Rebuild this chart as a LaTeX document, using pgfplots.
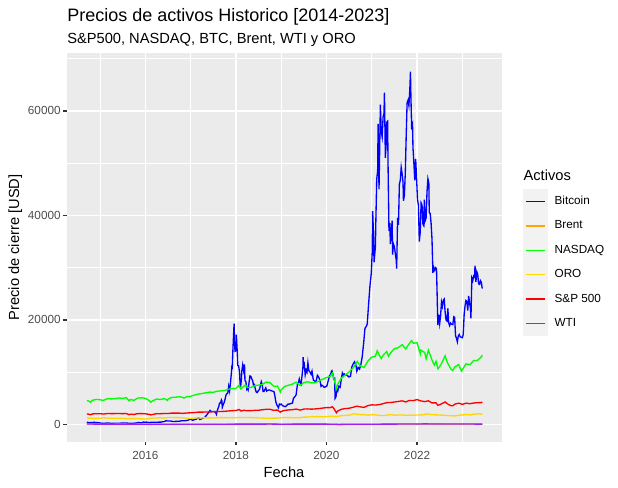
\documentclass[border=0pt]{standalone}
\usepackage{fontspec}
\setmainfont{Liberation Sans}
\usepackage{pgfplots}
\pgfplotsset{compat=1.18}
\definecolor{panelbg}{HTML}{EBEBEB}
\definecolor{keybg}{HTML}{F2F2F2}
\definecolor{grey20}{HTML}{333333}
\definecolor{grey30}{HTML}{4D4D4D}
\definecolor{btc}{HTML}{0000FF}
\definecolor{brent}{HTML}{FFA500}
\definecolor{nasdaq}{HTML}{00FF00}
\definecolor{oro}{HTML}{FFD700}
\definecolor{spx}{HTML}{FF0000}
\definecolor{wti}{HTML}{A020F0}
\begin{document}
\begin{tikzpicture}
\path[use as bounding box] (0,0) rectangle (463.5pt,366pt);
\begin{axis}[
  at={(50.25pt,34.7pt)}, anchor=south west,
  scale only axis, width=326.05pt, height=291.3pt,
  xmin=2014.27, xmax=2023.87, ymin=-3300, ymax=71000,
  axis background/.style={fill=panelbg},
  axis line style={draw=none},
  xtick={2016,2018,2020,2022}, minor xtick={2015,2017,2019,2021,2023},
  ytick={0,20000,40000,60000}, minor ytick={10000,30000,50000,70000},
  grid=both,
  major grid style={white, line width=1.07pt},
  minor grid style={white, line width=0.53pt},
  tick align=inside, major tick length=-2.75pt, minor tick length=0pt,
  xtick pos=bottom, ytick pos=left,
  major tick style={grey20, line width=1.07pt},
  /pgf/number format/1000 sep={},
  /pgf/number format/assume math mode=true,
  scaled ticks=false,
  xticklabel style={font=\fontsize{8.8}{10}\selectfont, text=grey30, inner sep=0pt, anchor=base, yshift=-13.7pt},
  yticklabel style={font=\fontsize{8.8}{10}\selectfont, text=grey30, inner sep=0pt, anchor=east, xshift=-4.6pt},
  legend style={at={(axis description cs:1.0497,0.6499)}, anchor=north west,
    draw=none, fill=none, inner sep=0pt, outer sep=0pt, row sep=0pt, column sep=5.2pt,
    nodes={inner sep=0pt, outer sep=0pt, font=\fontsize{8.8}{10}\selectfont, text=black, anchor=west}},
  legend cell align=left,
  legend image code/.code={\fill[keybg] (0pt,-8.64pt) rectangle (17.28pt,8.64pt);
    \draw[#1, line width=1.07pt] (1.7pt,0pt) -- (15.58pt,0pt);},
  every axis plot/.append style={line width=1pt},
]
% Bitcoin
\addplot[btc] table {
x y
2014.71 457
2014.72 398
2014.75 387
2014.77 330
2014.79 358
2014.81 383
2014.83 338
2014.85 366
2014.87 440
2014.89 380
2014.92 375
2014.94 350
2014.96 320
2014.99 320
2015.01 285
2015.04 178
2015.06 250
2015.08 220
2015.10 230
2015.13 255
2015.15 275
2015.18 290
2015.21 245
2015.23 250
2015.27 225
2015.31 235
2015.35 240
2015.40 230
2015.44 245
2015.48 260
2015.52 285
2015.56 285
2015.60 265
2015.63 225
2015.67 230
2015.71 230
2015.75 240
2015.79 275
2015.83 330
2015.85 390
2015.87 330
2015.90 325
2015.93 360
2015.96 455
2015.99 430
2016.03 450
2016.05 380
2016.08 380
2016.12 400
2016.16 420
2016.20 415
2016.25 420
2016.30 450
2016.35 455
2016.39 530
2016.43 580
2016.46 740
2016.48 670
2016.52 660
2016.56 660
2016.60 575
2016.64 575
2016.69 600
2016.73 610
2016.77 650
2016.81 720
2016.85 710
2016.89 740
2016.93 760
2016.96 890
2017.00 1000
2017.02 900
2017.05 800
2017.08 920
2017.12 1000
2017.15 1180
2017.18 1250
2017.20 960
2017.23 1040
2017.27 1200
2017.31 1350
2017.35 1750
2017.38 2100
2017.40 2300
2017.43 2700
2017.45 2500
2017.49 2480
2017.52 2500
2017.55 2300
2017.57 1930
2017.59 2700
2017.62 3400
2017.64 4100
2017.66 4100
2017.68 4700
2017.69 4500
2017.70 3300
2017.72 3800
2017.74 4200
2017.76 4800
2017.78 5600
2017.80 5900
2017.82 6000
2017.84 7300
2017.86 6400
2017.88 8000
2017.90 9800
2017.91 11000
2017.92 10900
2017.93 13500
2017.95 17500
2017.96 19300
2017.97 16000
2017.98 14000
2018.00 14100
2018.01 17200
2018.03 13800
2018.04 11300
2018.06 11200
2018.08 10000
2018.09 8200
2018.10 6900
2018.12 8500
2018.13 10200
2018.15 11400
2018.17 10300
2018.19 11500
2018.20 8400
2018.22 8200
2018.24 6800
2018.25 7000
2018.27 6600
2018.29 8000
2018.31 9300
2018.33 9200
2018.35 8700
2018.37 8400
2018.39 7400
2018.41 7600
2018.43 6700
2018.45 6200
2018.47 6100
2018.49 6400
2018.52 6700
2018.54 7400
2018.56 8200
2018.58 7700
2018.60 6300
2018.62 6300
2018.64 6700
2018.66 7000
2018.68 6400
2018.70 6500
2018.72 6600
2018.74 6600
2018.77 6500
2018.80 6400
2018.84 6300
2018.86 5500
2018.88 4400
2018.90 3800
2018.92 3500
2018.94 3200
2018.96 3900
2018.98 3800
2019.00 3900
2019.03 3600
2019.06 3500
2019.09 3400
2019.12 3600
2019.15 3900
2019.18 3900
2019.21 4000
2019.25 4100
2019.27 5000
2019.29 5200
2019.31 5400
2019.33 5700
2019.36 7800
2019.38 8000
2019.40 8700
2019.42 8000
2019.44 7700
2019.46 9300
2019.48 11000
2019.485 12900
2019.49 11000
2019.51 11500
2019.53 9500
2019.55 10400
2019.57 10000
2019.59 11800
2019.61 10300
2019.63 10100
2019.66 9600
2019.68 10200
2019.71 8500
2019.74 8300
2019.77 8200
2019.80 9400
2019.82 9200
2019.85 8600
2019.88 7300
2019.90 7500
2019.92 7400
2019.95 7100
2019.98 7200
2020.01 7400
2020.03 8100
2020.05 8700
2020.07 9400
2020.09 9500
2020.11 10200
2020.12 10300
2020.14 9700
2020.16 8700
2020.18 8800
2020.19 5000
2020.21 5300
2020.23 6700
2020.25 6400
2020.27 7300
2020.30 7100
2020.33 8800
2020.35 9800
2020.37 9300
2020.39 9700
2020.42 9500
2020.46 9400
2020.49 9100
2020.53 9200
2020.56 11000
2020.59 11600
2020.62 12000
2020.65 11400
2020.67 10200
2020.70 10900
2020.73 10600
2020.76 11500
2020.79 13000
2020.82 15500
2020.85 18400
2020.88 18800
2020.90 19200
2020.93 23000
2020.96 26500
2020.99 29000
2021.01 33000
2021.02 40800
2021.04 36000
2021.05 31000
2021.07 33000
2021.08 34000
2021.09 38800
2021.11 47000
2021.13 48500
2021.14 57500
2021.16 45000
2021.17 50000
2021.19 61200
2021.21 56000
2021.23 55000
2021.25 58800
2021.27 59500
2021.28 63500
2021.30 51000
2021.32 54000
2021.33 57800
2021.35 58000
2021.36 49500
2021.38 37000
2021.40 38500
2021.41 34500
2021.43 36500
2021.45 39000
2021.46 32500
2021.48 34500
2021.50 34000
2021.52 32700
2021.54 31500
2021.55 29800
2021.57 39500
2021.59 38200
2021.61 46000
2021.63 46700
2021.65 49200
2021.67 48000
2021.69 46400
2021.70 42800
2021.72 43800
2021.74 48000
2021.76 55000
2021.78 61500
2021.80 62000
2021.82 61000
2021.84 64000
2021.855 67500
2021.86 64500
2021.88 57000
2021.90 57500
2021.91 53000
2021.93 50000
2021.95 46700
2021.97 50800
2021.99 47000
2022.01 43000
2022.03 42000
2022.05 35000
2022.07 36800
2022.09 42400
2022.11 42000
2022.13 38300
2022.15 38000
2022.16 43000
2022.18 39000
2022.20 39500
2022.22 44500
2022.24 47000
2022.26 46200
2022.27 40500
2022.29 40400
2022.31 38500
2022.33 35500
2022.35 29000
2022.37 30000
2022.39 29500
2022.41 30000
2022.43 29800
2022.45 22500
2022.46 19000
2022.48 21000
2022.50 19300
2022.52 20800
2022.54 23400
2022.56 22600
2022.58 23800
2022.60 24000
2022.62 21500
2022.64 20000
2022.66 19800
2022.68 22200
2022.70 19400
2022.72 18900
2022.74 19400
2022.76 19200
2022.79 19100
2022.81 20600
2022.83 20500
2022.85 17000
2022.87 16500
2022.89 15800
2022.91 16900
2022.93 17200
2022.95 16800
2022.97 16700
2023.00 16600
2023.02 17200
2023.04 21000
2023.06 22700
2023.08 23700
2023.10 23500
2023.12 21800
2023.14 24600
2023.16 23200
2023.18 22300
2023.19 20300
2023.21 28000
2023.23 27500
2023.25 28400
2023.27 28200
2023.28 30400
2023.30 27300
2023.32 29200
2023.34 28700
2023.36 26900
2023.38 26800
2023.40 27500
2023.42 27200
2023.44 26000
};
\addlegendentry{Bitcoin}
% Brent
\addplot[brent] table {
x y
2014.71 98
2014.75 95
2014.83 86
2014.92 70
2015.00 57
2015.04 47
2015.08 53
2015.25 55
2015.42 65
2015.58 52
2015.75 48
2016.00 37
2016.05 28
2016.25 40
2016.50 50
2016.75 49
2017.00 57
2017.25 53
2017.50 48
2017.75 57
2018.00 67
2018.25 70
2018.42 77
2018.79 85
2019.00 54
2019.33 72
2019.67 60
2020.00 66
2020.08 58
2020.30 20
2020.50 41
2020.83 38
2021.00 52
2021.25 64
2021.50 75
2021.83 84
2022.00 78
2022.19 128
2022.25 108
2022.50 115
2022.75 88
2023.00 86
2023.25 80
2023.44 75
};
\addlegendentry{Brent}
% NASDAQ
\addplot[nasdaq] table {
x y
2014.71 4562
2014.75 4493
2014.79 4250
2014.83 4631
2014.92 4792
2015.00 4736
2015.04 4640
2015.08 4635
2015.17 4964
2015.25 4901
2015.33 4941
2015.42 5070
2015.50 4987
2015.58 5128
2015.64 4526
2015.67 4777
2015.75 4620
2015.83 5054
2015.92 5109
2016.00 5007
2016.08 4614
2016.12 4266
2016.17 4558
2016.25 4870
2016.33 4775
2016.42 4948
2016.49 4594
2016.50 4843
2016.58 5162
2016.67 5213
2016.75 5312
2016.83 5189
2016.85 5046
2016.92 5323
2017.00 5383
2017.08 5615
2017.17 5825
2017.25 5912
2017.33 6048
2017.42 6199
2017.50 6140
2017.58 6348
2017.67 6429
2017.75 6496
2017.83 6728
2017.92 6874
2018.00 6903
2018.07 7505
2018.08 7411
2018.11 6777
2018.17 7273
2018.21 7588
2018.25 7063
2018.33 7066
2018.42 7442
2018.50 7510
2018.58 7672
2018.67 8110
2018.75 8046
2018.83 7306
2018.92 7331
2018.98 6193
2019.00 6635
2019.08 7282
2019.17 7533
2019.25 7729
2019.33 8095
2019.42 7453
2019.50 8006
2019.58 8175
2019.67 7963
2019.75 7999
2019.83 8292
2019.92 8665
2020.00 8973
2020.08 9150
2020.13 9817
2020.17 8567
2020.22 6860
2020.25 7700
2020.33 8890
2020.42 9490
2020.50 10058
2020.58 10745
2020.66 11775
2020.68 12056
2020.75 11168
2020.83 10912
2020.92 12199
2021.00 12888
2021.08 13070
2021.12 14095
2021.17 13192
2021.21 12609
2021.25 13247
2021.33 13962
2021.37 13031
2021.42 13749
2021.50 14504
2021.58 14673
2021.67 15259
2021.75 14449
2021.83 15498
2021.88 16057
2021.92 15538
2022.00 15645
2022.07 13539
2022.08 14240
2022.17 13751
2022.20 12581
2022.25 14221
2022.33 12335
2022.38 11370
2022.42 12081
2022.46 10646
2022.50 11029
2022.58 12391
2022.62 13128
2022.67 11816
2022.75 10576
2022.79 10321
2022.83 10988
2022.92 11468
2022.98 10213
2023.00 10466
2023.08 11585
2023.17 11456
2023.25 12222
2023.33 12227
2023.42 12935
2023.44 13259
};
\addlegendentry{NASDAQ}
% ORO
\addplot[oro] table {
x y
2014.71 1235
2014.75 1217
2014.83 1171
2014.92 1175
2015.00 1199
2015.06 1295
2015.08 1279
2015.17 1213
2015.25 1183
2015.33 1184
2015.42 1190
2015.50 1172
2015.58 1095
2015.67 1132
2015.75 1115
2015.83 1142
2015.92 1065
2016.00 1061
2016.08 1118
2016.17 1238
2016.25 1234
2016.33 1293
2016.42 1217
2016.50 1321
2016.58 1351
2016.67 1309
2016.75 1316
2016.83 1274
2016.92 1173
2017.00 1152
2017.08 1211
2017.17 1254
2017.25 1249
2017.33 1267
2017.42 1269
2017.50 1242
2017.58 1269
2017.67 1322
2017.75 1283
2017.83 1271
2017.92 1275
2018.00 1303
2018.08 1339
2018.17 1318
2018.25 1325
2018.33 1316
2018.42 1299
2018.50 1252
2018.58 1224
2018.67 1201
2018.75 1191
2018.83 1215
2018.92 1222
2019.00 1282
2019.08 1321
2019.17 1316
2019.25 1292
2019.33 1285
2019.42 1305
2019.50 1409
2019.58 1413
2019.67 1520
2019.75 1472
2019.83 1511
2019.92 1464
2020.00 1517
2020.08 1587
2020.17 1585
2020.21 1477
2020.25 1577
2020.33 1686
2020.42 1730
2020.50 1781
2020.58 1975
2020.60 2067
2020.67 1967
2020.75 1886
2020.83 1879
2020.92 1777
2021.00 1895
2021.08 1848
2021.17 1734
2021.25 1708
2021.33 1768
2021.42 1903
2021.50 1770
2021.58 1814
2021.67 1818
2021.75 1755
2021.83 1784
2021.92 1775
2022.00 1828
2022.08 1796
2022.17 1909
2022.19 2040
2022.25 1949
2022.33 1897
2022.42 1837
2022.50 1807
2022.58 1771
2022.67 1712
2022.75 1668
2022.83 1640
2022.92 1759
2023.00 1826
2023.08 1928
2023.17 1827
2023.25 1986
2023.33 1990
2023.37 2050
2023.42 1963
2023.44 1977
};
\addlegendentry{ORO}
% S&P 500
\addplot[spx] table {
x y
2014.71 2001
2014.75 1972
2014.79 1862
2014.83 2018
2014.92 2068
2015.00 2059
2015.08 1995
2015.17 2105
2015.25 2068
2015.33 2086
2015.42 2107
2015.50 2063
2015.58 2104
2015.64 1868
2015.67 1972
2015.75 1920
2015.83 2079
2015.92 2080
2016.00 2044
2016.08 1940
2016.12 1829
2016.17 1932
2016.25 2060
2016.33 2065
2016.42 2097
2016.50 2099
2016.58 2174
2016.67 2171
2016.75 2168
2016.83 2126
2016.92 2199
2017.00 2239
2017.08 2279
2017.17 2364
2017.25 2363
2017.33 2384
2017.42 2412
2017.50 2423
2017.58 2470
2017.67 2472
2017.75 2519
2017.83 2575
2017.92 2648
2018.00 2674
2018.07 2873
2018.08 2824
2018.11 2581
2018.17 2714
2018.25 2641
2018.33 2648
2018.42 2705
2018.50 2718
2018.58 2816
2018.67 2902
2018.75 2914
2018.83 2712
2018.92 2760
2018.98 2351
2019.00 2507
2019.08 2704
2019.17 2784
2019.25 2834
2019.33 2946
2019.42 2752
2019.50 2942
2019.58 2980
2019.67 2926
2019.75 2977
2019.83 3038
2019.92 3141
2020.00 3231
2020.08 3226
2020.13 3386
2020.17 2954
2020.22 2237
2020.25 2585
2020.33 2912
2020.42 3044
2020.50 3100
2020.58 3271
2020.67 3500
2020.75 3363
2020.83 3270
2020.92 3622
2021.00 3756
2021.08 3714
2021.17 3811
2021.25 3973
2021.33 4181
2021.42 4204
2021.50 4298
2021.58 4395
2021.67 4523
2021.75 4308
2021.83 4605
2021.92 4567
2022.00 4766
2022.08 4516
2022.17 4374
2022.25 4530
2022.33 4132
2022.42 4132
2022.46 3667
2022.50 3785
2022.58 4130
2022.62 4305
2022.67 3955
2022.75 3586
2022.79 3577
2022.83 3872
2022.92 4080
2023.00 3840
2023.08 4077
2023.17 3970
2023.25 4109
2023.33 4169
2023.42 4180
2023.44 4299
};
\addlegendentry{S\&P 500}
% WTI
\addplot[wti] table {
x y
2014.71 94
2014.92 66
2015.00 54
2015.25 48
2015.50 59
2016.00 37
2016.12 26
2016.50 48
2017.00 54
2017.50 46
2018.00 60
2018.50 74
2018.79 76
2019.00 45
2019.33 64
2020.00 61
2020.25 20
2020.30 -37
2020.31 10
2020.33 19
2020.50 39
2021.00 48
2021.50 73
2021.83 84
2022.00 75
2022.19 123
2022.25 100
2022.50 105
2022.75 79
2023.00 80
2023.25 76
2023.44 70
};
\addlegendentry{WTI}
\end{axis}
\node[anchor=base west, inner sep=0pt, font=\fontsize{13.5}{15}\selectfont] at (50.25pt,349.7pt) {Precios de activos Historico [2014-2023]};
\node[anchor=base west, inner sep=0pt, font=\fontsize{11}{13}\selectfont] at (50.25pt,333.5pt) {S\&P500, NASDAQ, BTC, Brent, WTI y ORO};
\node[anchor=base, inner sep=0pt, font=\fontsize{11}{13}\selectfont] at (213pt,7.7pt) {Fecha};
\node[anchor=base, rotate=90, inner sep=0pt, font=\fontsize{11}{13}\selectfont] at (14.25pt,180.4pt) {Precio de cierre [USD]};
\node[anchor=base west, inner sep=0pt, font=\fontsize{11}{13}\selectfont] at (392.5pt,230.5pt) {Activos};
\end{tikzpicture}
\end{document}
